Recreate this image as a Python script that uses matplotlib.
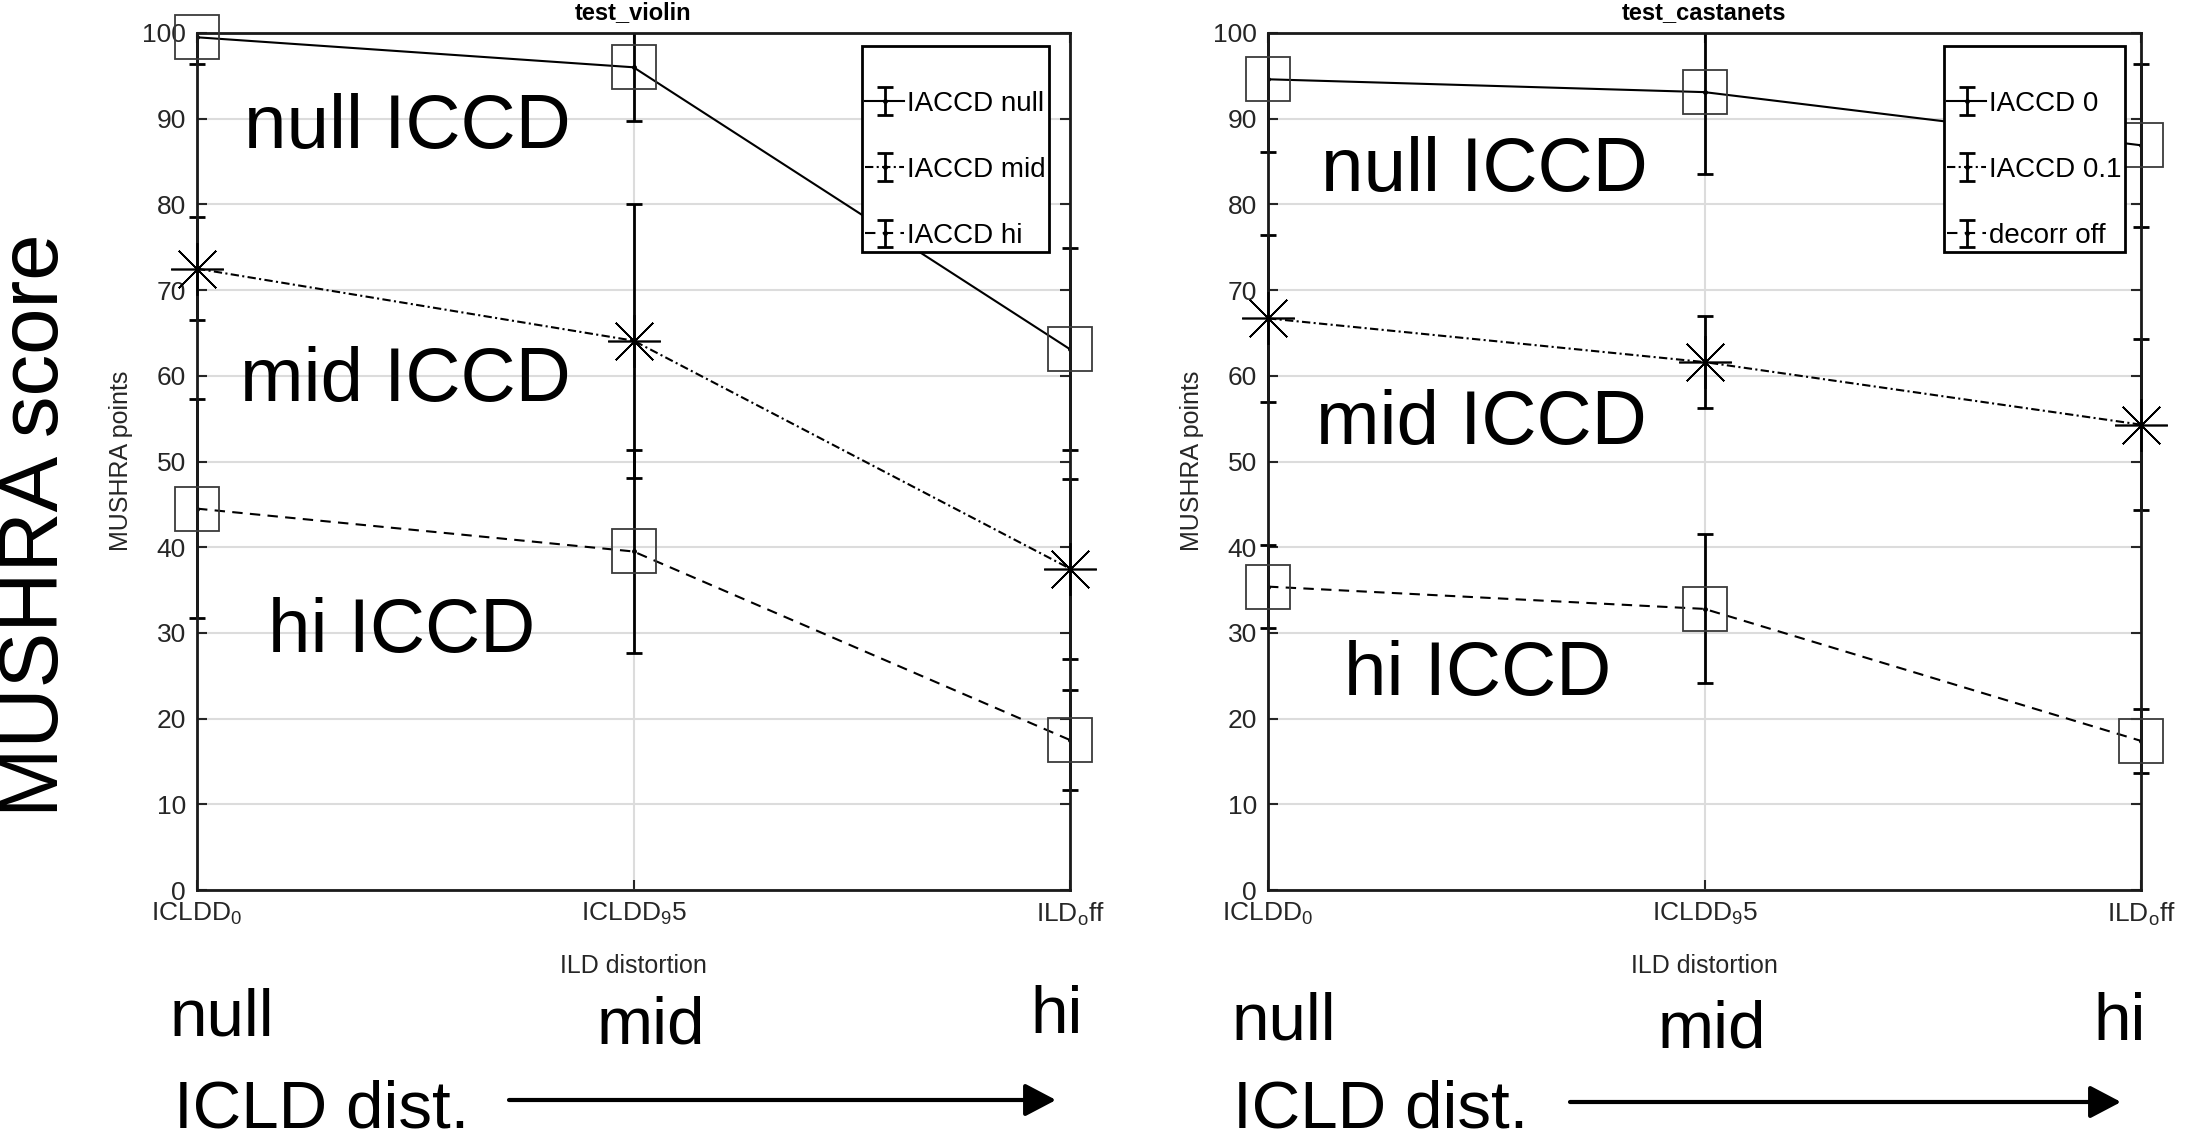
import matplotlib
matplotlib.use('Agg')
import matplotlib.pyplot as plt
from matplotlib.patches import Rectangle, FancyArrowPatch

plt.rcParams['font.family'] = ['Liberation Sans', 'DejaVu Sans']
plt.rcParams['mathtext.fontset'] = 'custom'
plt.rcParams['mathtext.rm'] = 'Liberation Sans'
plt.rcParams['mathtext.it'] = 'Liberation Sans:italic'
plt.rcParams['mathtext.bf'] = 'Liberation Sans:bold'

# ---------------- data ----------------
categories = [r'ICLDD$_\mathrm{0}$', r'ICLDD$_\mathrm{9}$5', r'ILD$_\mathrm{o}$ff']
yticks = [0, 10, 20, 30, 40, 50, 60, 70, 80, 90, 100]

violin_null = [99.5, 96.0, 63.1]
violin_null_err = [3.1, 6.3, 11.8]
violin_mid = [72.5, 64.1, 37.5]
violin_mid_err = [6.0, 16.0, 10.5]
violin_hi = [44.5, 39.5, 17.5]
violin_hi_err = [12.8, 11.8, 5.8]
violin_labels = ['IACCD null', 'IACCD mid', 'IACCD hi']

cast_null = [94.6, 93.1, 86.9]
cast_null_err = [8.5, 9.5, 9.5]
cast_mid = [66.7, 61.6, 54.3]
cast_mid_err = [9.7, 5.4, 10.0]
cast_hi = [35.4, 32.8, 17.4]
cast_hi_err = [4.8, 8.7, 3.7]
cast_labels = ['IACCD 0', 'IACCD 0.1', 'decorr off']

W, H = 2188, 1146
fig = plt.figure(figsize=(W / 100, H / 100), dpi=100)

def fx(px):
    return px / W

def fy(py):
    return 1 - py / H

AXW = 2141 - 1268
AXH = 890 - 33
ax1 = fig.add_axes([fx(197), fy(890), AXW / W, AXH / H])
ax2 = fig.add_axes([fx(1268), fy(890), AXW / W, AXH / H])

styles = ['-', (0, (4, 1.6, 1, 1.6)), (0, (5, 3.5))]
markers = ['s', (8, 2, 0), 's']
msizes = [32, 38, 32]
mecs = ['#3a3a3a', 'k', '#3a3a3a']
mews = [1.3, 1.2, 1.3]


def draw_panel(ax, title, means, errs, labels, leg_dx):
    x = list(range(len(categories)))
    clip = Rectangle((-0.05, 0), 1.1, 1, transform=ax.transAxes,
                     facecolor='none', edgecolor='none')
    handles = []
    for i, (m, e) in enumerate(zip(means, errs)):
        eb = ax.errorbar(x, m, yerr=e, fmt='.', linestyle=styles[i], color='k',
                         lw=1.5, elinewidth=2.0, capsize=5.5, capthick=2.0,
                         markersize=5, zorder=2)
        for art in list(eb.lines[1]) + list(eb.lines[2]):
            art.set_clip_path(clip)
        ax.plot(x, m, linestyle='none', marker=markers[i], ms=msizes[i],
                mfc='none', mec=mecs[i], mew=mews[i], clip_on=False, zorder=3)
        handles.append(eb)
    ax.set_xlim(0, 2)
    ax.set_ylim(0, 100)
    ax.set_xticks(x)
    ax.set_xticklabels(categories)
    ax.set_yticks(yticks)
    ax.grid(True, color='#dcdcdc', lw=1.5)
    ax.set_axisbelow(True)
    ax.tick_params(direction='in', length=7, width=1.5, top=True, right=True,
                   labelsize=19, colors='#262626', pad=8)
    for sp in ax.spines.values():
        sp.set_linewidth(2.0)
        sp.set_color('#1a1a1a')
    ax.set_title(title, fontsize=17, fontweight='bold', pad=10)
    leg = ax.legend(handles, labels, loc='upper right',
                    bbox_to_anchor=(1 - leg_dx / AXW, 1 - 13 / AXH),
                    borderaxespad=0, fontsize=20, fancybox=False,
                    edgecolor='k', framealpha=1, labelspacing=1.45,
                    handlelength=1.4, handletextpad=0.1, borderpad=0.12,
                    title=' ', title_fontsize=1)
    leg.get_frame().set_linewidth(2.0)
    leg.set_zorder(6)


draw_panel(ax1, 'test_violin', [violin_null, violin_mid, violin_hi],
           [violin_null_err, violin_mid_err, violin_hi_err], violin_labels, 21)
draw_panel(ax2, 'test_castanets', [cast_null, cast_mid, cast_hi],
           [cast_null_err, cast_mid_err, cast_hi_err], cast_labels, 16)

# axis labels
for cx in [633, 1704]:
    fig.text(fx(cx), fy(966), 'ILD distortion', fontsize=18, ha='center',
             va='center', color='#262626')
for cx in [121, 1192]:
    fig.text(fx(cx), fy(461), 'MUSHRA points', fontsize=18, ha='center',
             va='center', rotation=90, color='#262626')

# big annotations
fig.text(fx(36), fy(525), 'MUSHRA score', fontsize=60, rotation=90,
         ha='center', va='center')

big = [('null ICCD', 244, 148), ('mid ICCD', 240, 401), ('hi ICCD', 268, 652),
       ('null ICCD', 1321, 191), ('mid ICCD', 1316, 444), ('hi ICCD', 1344, 695)]
for s, px, py in big:
    fig.text(fx(px), fy(py), s, fontsize=55, ha='left', va='baseline')

bottom = [('null', 170, 1035), ('mid', 597, 1044), ('hi', 1030, 1033),
          ('null', 1232, 1040), ('mid', 1658, 1047), ('hi', 2093, 1040),
          ('ICLD dist.', 174, 1127), ('ICLD dist.', 1233, 1127)]
for s, px, py in bottom:
    fig.text(fx(px), fy(py), s, fontsize=48.5, ha='left', va='baseline')

for x0, x1, yy in [(509, 1056, 1100), (1570, 2121, 1102)]:
    arr = FancyArrowPatch((fx(x0), fy(yy)), (fx(x1), fy(yy)),
                          transform=fig.transFigure,
                          arrowstyle='-|>,head_length=1.9,head_width=1.0',
                          mutation_scale=10, lw=3, color='k',
                          shrinkA=0, shrinkB=0)
    fig.add_artist(arr)

fig.savefig('out.png', dpi=100)
